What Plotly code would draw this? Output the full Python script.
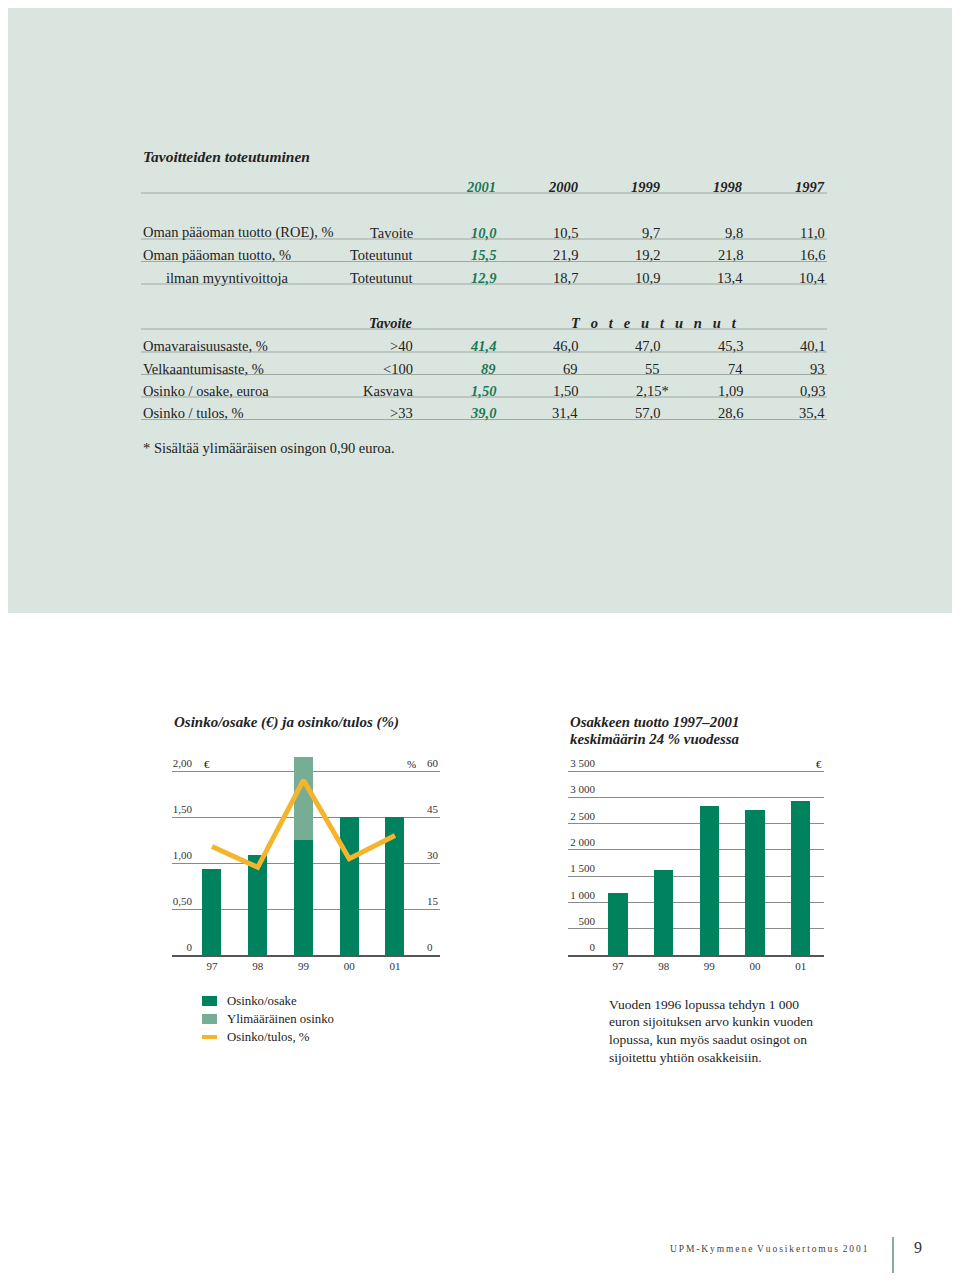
import plotly.graph_objects as go

# the page body has an 8 px margin, so the figure is made smaller and
# every position is given in page pixels and shifted by that margin
OFF = 8
W, H = 960 - 2 * OFF, 1281 - 2 * OFF
def px(x): return (x - OFF) / W
def py(y): return 1 - (y - OFF) / H

SERIF = 'Liberation Serif'
GREEN = '#00825f'
LIGHT_GREEN = '#77ac95'
ORANGE = '#f4b52c'
TXT = '#222222'
TAB_GREEN = '#1b7a55'

# ---- table data ----
years = ['2001', '2000', '1999', '1998', '1997']

roe_labels = ['Oman pääoman tuotto (ROE), %', 'Oman pääoman tuotto, %', 'ilman myyntivoittoja']
roe_kind = ['Tavoite', 'Toteutunut', 'Toteutunut']
roe_target = ['10,0', '10,5', '9,7', '9,8', '11,0']
roe_actual = ['15,5', '21,9', '19,2', '21,8', '16,6']
roe_excl_gains = ['12,9', '18,7', '10,9', '13,4', '10,4']

ratio_labels = ['Omavaraisuusaste, %', 'Velkaantumisaste, %', 'Osinko / osake, euroa', 'Osinko / tulos, %']
ratio_targets = ['&gt;40', '&lt;100', 'Kasvava', '&gt;33']
equity_ratio = ['41,4', '46,0', '47,0', '45,3', '40,1']
gearing = ['89', '69', '55', '74', '93']
dps_table = ['1,50', '1,50', '2,15*', '1,09', '0,93']
payout_table = ['39,0', '31,4', '57,0', '28,6', '35,4']

footnote = '* Sisältää ylimääräisen osingon 0,90 euroa.'

# ---- chart data ----
chart_years = ['97', '98', '99', '00', '01']
dividend = [0.93, 1.09, 1.25, 1.50, 1.50]        # EUR / share
extra_dividend = [0, 0, 0.90, 0, 0]              # extra dividend 1999
payout = [35.4, 28.6, 57.0, 31.4, 39.0]          # %
investment_value = [1185, 1620, 2840, 2750, 2920]  # EUR, 1 000 invested end of 1996

left_ticks = [0, 0.5, 1.0, 1.5, 2.0]
left_ticktext = ['0', '0,50', '1,00', '1,50', '2,00']
right_ticks = [0, 15, 30, 45, 60]
value_ticks = [0, 500, 1000, 1500, 2000, 2500, 3000, 3500]
value_ticktext = ['0', '500', '1 000', '1 500', '2 000', '2 500', '3 000', '3 500']

note_lines = ['Vuoden 1996 lopussa tehdyn 1 000',
              'euron sijoituksen arvo kunkin vuoden',
              'lopussa, kun myös saadut osingot on',
              'sijoitettu yhtiön osakkeisiin.']

legend_names = ['Osinko/osake', 'Ylimääräinen osinko', 'Osinko/tulos, %']

ann = []
shapes = []

def txt(x, y, s, anchor='left', size=14.5, color=TXT):
    ann.append(dict(x=px(x), y=py(y), xref='paper', yref='paper', text=s,
                    showarrow=False, xanchor=anchor, yanchor='middle',
                    font=dict(family=SERIF, size=size, color=color)))

def hline(x0, x1, y, color='#9fa9a4', width=1):
    shapes.append(dict(type='line', xref='paper', yref='paper',
                       x0=px(x0), x1=px(x1), y0=py(y), y1=py(y),
                       line=dict(color=color, width=width)))

# light green panel behind the table
shapes.append(dict(type='rect', xref='paper', yref='paper', x0=0, x1=1,
                   y0=py(613), y1=1, fillcolor='#dae5df', line_width=0, layer='below'))

COL_X = [498, 580, 662, 745, 827]
LEFT, RIGHT, KIND_X = 141, 827, 415

txt(LEFT, 157, '<b><i>Tavoitteiden toteutuminen</i></b>', size=15.5)
for j, yr in enumerate(years):
    txt(COL_X[j], 187, '<b><i>%s</i></b>' % yr, 'right', color=TAB_GREEN if j == 0 else TXT)
hline(LEFT, RIGHT, 193)

def table_row(y, label, kind, vals, indent=0):
    txt(LEFT + indent, y, label)
    txt(KIND_X, y, kind, 'right')
    for j, v in enumerate(vals):
        xs = 9 if v.endswith('*') else 0
        if j == 0:
            txt(COL_X[j], y, '<b><i>%s</i></b>' % v, 'right', color=TAB_GREEN)
        else:
            txt(COL_X[j] + xs, y, v, 'right')
    hline(LEFT, RIGHT, y + 6)

for i, vals in enumerate([roe_target, roe_actual, roe_excl_gains]):
    table_row(233 + i * 22.5, roe_labels[i], roe_kind[i], vals, indent=23 if i == 2 else 0)

txt(KIND_X, 323, '<b><i>Tavoite</i></b>', 'right')
txt(569, 323, '<b><i>' + '\u2002\u2005'.join('Toteutunut') + '</i></b>')
hline(LEFT, RIGHT, 329)
for i, vals in enumerate([equity_ratio, gearing, dps_table, payout_table]):
    table_row(346 + i * 22.5, ratio_labels[i], ratio_targets[i], vals)

txt(LEFT, 448, footnote)

# ---- charts ----
fig = go.Figure()

fig.add_trace(go.Bar(x=chart_years, y=dividend, name=legend_names[0], width=0.415,
                     marker=dict(color=GREEN, line_width=0), xaxis='x', yaxis='y'))
fig.add_trace(go.Bar(x=chart_years, y=extra_dividend, name=legend_names[1], width=0.415,
                     marker=dict(color=LIGHT_GREEN, line_width=0), xaxis='x', yaxis='y'))
fig.add_trace(go.Scatter(x=chart_years, y=payout, name=legend_names[2], mode='lines',
                         line=dict(color=ORANGE, width=5), xaxis='x', yaxis='y2'))
fig.add_trace(go.Bar(x=chart_years, y=investment_value, name='Osakkeen tuotto', width=0.42,
                     marker=dict(color=GREEN, line_width=0), xaxis='x3', yaxis='y3'))

ydom = [py(955), py(751)]
tickfont = dict(family=SERIF, size=11, color='#333')
grid = dict(showgrid=True, gridcolor='#8a8a8a', gridwidth=1, zeroline=False,
            showline=False, ticks='', tickfont=tickfont, fixedrange=True)
xcommon = dict(showgrid=False, zeroline=False, ticks='', showline=True,
               linecolor='#555', linewidth=1.5, tickfont=tickfont, type='category')

fig.update_layout(
    xaxis=dict(domain=[px(172), px(440)], range=[-0.874, 4.984], anchor='y', **xcommon),
    yaxis=dict(domain=ydom, range=[0, 204 / 92], anchor='free', position=px(192),
               tickvals=left_ticks, ticktext=left_ticktext,
               ticklabelposition='outside top', **grid),
    yaxis2=dict(overlaying='y', side='right', range=[0, 204 / 92 * 30],
                anchor='free', position=px(426), tickvals=right_ticks,
                ticklabelposition='outside top', **{**grid, 'showgrid': False}),
    xaxis3=dict(domain=[px(568), px(824)], range=[-1.094, 4.51], anchor='y3', **xcommon),
    yaxis3=dict(domain=ydom, range=[0, 3500 * 204 / 184], anchor='free', position=px(595),
                tickvals=value_ticks, ticktext=value_ticktext,
                ticklabelposition='outside top', **grid),
)

# chart titles and unit labels
txt(172, 722, '<b><i>Osinko/osake (€) ja osinko/tulos (%)</i></b>', size=15)
txt(568, 722, '<b><i>Osakkeen tuotto 1997–2001</i></b>', size=14.8)
txt(568, 739, '<b><i>keskimäärin 24 % vuodessa</i></b>', size=14.8)
txt(202, 764, '€', size=11)
txt(405, 764, '%', size=11)
txt(824, 764, '€', 'right', size=11)

# legend, drawn by hand to match the small print legend
leg_y = [1001, 1019, 1037]
for i, name in enumerate(legend_names):
    if i < 2:
        shapes.append(dict(type='rect', xref='paper', yref='paper', x0=px(202), x1=px(217),
                           y0=py(leg_y[i] + 5), y1=py(leg_y[i] - 5),
                           fillcolor=[GREEN, LIGHT_GREEN][i], line_width=0))
    else:
        shapes.append(dict(type='line', xref='paper', yref='paper', x0=px(202), x1=px(217),
                           y0=py(leg_y[i]), y1=py(leg_y[i]), line=dict(color=ORANGE, width=4)))
    txt(225, leg_y[i], name, size=12.8)

for i, line in enumerate(note_lines):
    txt(607, 1004 + i * 17.7, line, size=13.5)

# footer
txt(668, 1249, '\u2002'.join('\u2009'.join(w) for w in 'UPM-Kymmene Vuosikertomus 2001'.split()),
    size=9.5, color='#444')
shapes.append(dict(type='line', xref='paper', yref='paper', x0=px(893), x1=px(893),
                   y0=0, y1=py(1237), line=dict(color='#5f8f7c', width=1.5)))
txt(912, 1247, '9', size=16, color='#333')

fig.update_layout(
    width=W, height=H, margin=dict(l=0, r=0, t=0, b=0),
    paper_bgcolor='white', plot_bgcolor='rgba(0,0,0,0)',
    barmode='stack', showlegend=False,
    font=dict(family=SERIF, color=TXT),
    annotations=ann, shapes=shapes,
)

fig.write_html('out.html')
